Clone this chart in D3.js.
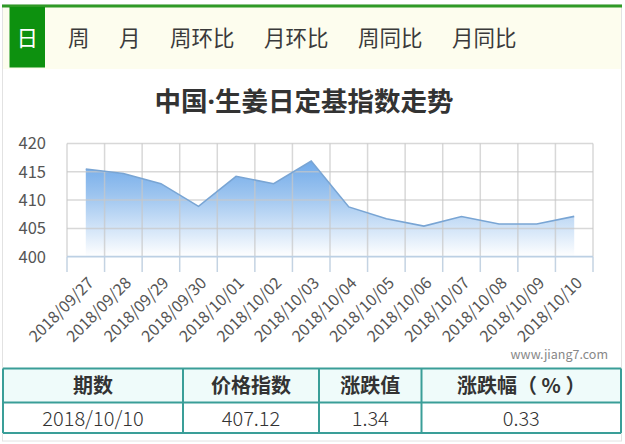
<!DOCTYPE html>
<html><head><meta charset="utf-8">
<script src="https://cdn.jsdelivr.net/npm/d3@7/dist/d3.min.js"></script>
<style>
body{margin:0;background:#fff;}
svg{display:block;font-family:"Noto Sans CJK SC","Noto Sans",sans-serif;}
</style></head><body>
<svg id="c" width="625" height="444"></svg>
<script>
const tabs = ["日","周","月","周环比","月环比","周同比","月同比"];
const titleParts = ["中国","·","生姜日定基指数走势"];
const dates = ["2018/09/27","2018/09/28","2018/09/29","2018/09/30","2018/10/01","2018/10/02","2018/10/03","2018/10/04","2018/10/05","2018/10/06","2018/10/07","2018/10/08","2018/10/09","2018/10/10"];
const values = [415.5,414.7,412.9,408.9,414.2,412.9,416.9,408.8,406.7,405.4,407.1,405.78,405.78,407.12];
const yTicks = [400,405,410,415,420];
const tableHeader = ["期数","价格指数","涨跌值","涨跌幅（ % ）"];
const tableRow = ["2018/10/10","407.12","1.34","0.33"];
const watermark = "www.jiang7.com";

const svg = d3.select("#c");

// outer frame
svg.append("rect").attr("x",2.5).attr("y",5).attr("width",619).attr("height",436)
  .attr("fill","#fff").attr("stroke","#e2e2e2").attr("stroke-width",1);

// tab bar
svg.append("rect").attr("x",3).attr("y",7).attr("width",618).attr("height",62).attr("fill","#fdfdee");
svg.append("rect").attr("x",2).attr("y",4.5).attr("width",620).attr("height",3).attr("fill","#2f9a26");
svg.append("rect").attr("x",9.5).attr("y",7).attr("width",35.5).attr("height",60.5).attr("fill","#0d910f");
let tx = 68;
tabs.forEach((t,i)=>{
  const el = svg.append("text").text(t).attr("font-size",21.5).attr("y",46)
    .attr("fill", i===0 ? "#fff" : "#3a3a3a");
  if(i===0){ el.attr("x",27.3).attr("text-anchor","middle"); }
  else { el.attr("x",tx); tx += el.node().getComputedTextLength() + 29.5; }
});

// title
const tt = svg.append("text").attr("x",304).attr("y",110.5).attr("text-anchor","middle")
  .attr("font-size",26.5).attr("font-weight","bold").attr("fill","#333");
titleParts.forEach((p,i)=>{
  const s = tt.append("tspan").text(p);
  if(i===1) s.attr("font-family","'Noto Sans',sans-serif");
});

// chart
const x = d3.scaleBand().domain(dates).range([67,593]).padding(0);
const y = d3.scaleLinear().domain([400,420]).range([256.7,143.5]);
const cx = d => x(d) + x.bandwidth()/2;

const defs = svg.append("defs");
const grad = defs.append("linearGradient").attr("id","ag").attr("gradientUnits","userSpaceOnUse")
  .attr("x1",0).attr("x2",0).attr("y1",y(420)).attr("y2",y(400));
grad.append("stop").attr("offset",0).attr("stop-color","#5a9ce6");
grad.append("stop").attr("offset",0.45).attr("stop-color","#9cc4ef");
grad.append("stop").attr("offset",1).attr("stop-color","#ffffff");

// area
const pts = dates.map((d,i)=>({d,v:values[i]}));
svg.append("path").datum(pts)
  .attr("d", d3.area().x(p=>cx(p.d)).y0(y(400)).y1(p=>y(p.v)))
  .attr("fill","url(#ag)");

// horizontal grid (over area, semi-transparent)
svg.append("g").selectAll("line").data(yTicks.filter(d=>d!==400)).join("line")
  .attr("x1",67).attr("x2",593).attr("y1",d=>y(d)).attr("y2",d=>y(d))
  .attr("stroke","#c8c8c8").attr("stroke-opacity",0.7).attr("stroke-width",1.5);

// vertical grid + ticks
const bounds = dates.map(d=>x(d)).concat([x(dates[dates.length-1])+x.bandwidth()]);
svg.append("g").selectAll("line").data(bounds).join("line")
  .attr("x1",d=>d).attr("x2",d=>d).attr("y1",y(420)).attr("y2",y(400))
  .attr("stroke","#c8c8c8").attr("stroke-opacity",0.7).attr("stroke-width",1.5);
svg.append("g").selectAll("line").data(bounds).join("line")
  .attr("x1",d=>d).attr("x2",d=>d).attr("y1",y(400)).attr("y2",272)
  .attr("stroke","#c4d3e2").attr("stroke-width",1.5);
// axis line
svg.append("line").attr("x1",67).attr("x2",593).attr("y1",y(400)).attr("y2",y(400))
  .attr("stroke","#bcd0e4").attr("stroke-width",1.8);

svg.append("path").datum(pts)
  .attr("d", d3.line().x(p=>cx(p.d)).y(p=>y(p.v)))
  .attr("fill","none").attr("stroke","#79a5d4").attr("stroke-width",1.6);

// y labels
svg.append("g").selectAll("text").data(yTicks).join("text")
  .attr("x",46).attr("y",d=>y(d)).attr("dy","0.36em").attr("text-anchor","end")
  .attr("font-size",16.5).attr("fill","#555").text(d=>d);

// x labels
svg.append("g").selectAll("text").data(dates).join("text")
  .attr("transform",d=>`translate(${cx(d)+5},${280}) rotate(-45)`)
  .attr("text-anchor","end").attr("dy","0.35em")
  .attr("font-size",16).attr("fill","#555").text(d=>d);

// watermark
svg.append("text").text(watermark).attr("x",608).attr("y",359).attr("text-anchor","end")
  .attr("font-size",12.5).attr("fill","#888");

// table
const colX = [3,183,319,421.5,621];
const rowY = [368.5,402.5,433];
svg.append("rect").attr("x",colX[0]).attr("y",rowY[0]).attr("width",colX[4]-colX[0]).attr("height",rowY[1]-rowY[0]).attr("fill","#effbfa");
const tg = svg.append("g").attr("stroke","#3a9e98").attr("stroke-width",2);
rowY.forEach(yy=>tg.append("line").attr("x1",colX[0]).attr("x2",colX[4]).attr("y1",yy).attr("y2",yy));
colX.forEach(xx=>tg.append("line").attr("x1",xx).attr("x2",xx).attr("y1",rowY[0]).attr("y2",rowY[2]));
tableHeader.forEach((t,i)=>{
  svg.append("text").text(t).attr("x",(colX[i]+colX[i+1])/2).attr("y",(rowY[0]+rowY[1])/2)
    .attr("dy","0.36em").attr("text-anchor","middle").attr("font-size",20).attr("font-weight","bold").attr("fill","#333");
});
tableRow.forEach((t,i)=>{
  svg.append("text").text(t).attr("x",(colX[i]+colX[i+1])/2).attr("y",(rowY[1]+rowY[2])/2+1)
    .attr("dy","0.36em").attr("text-anchor","middle").attr("font-size",20).attr("font-weight",300).attr("fill","#333");
});
</script>
</body></html>
